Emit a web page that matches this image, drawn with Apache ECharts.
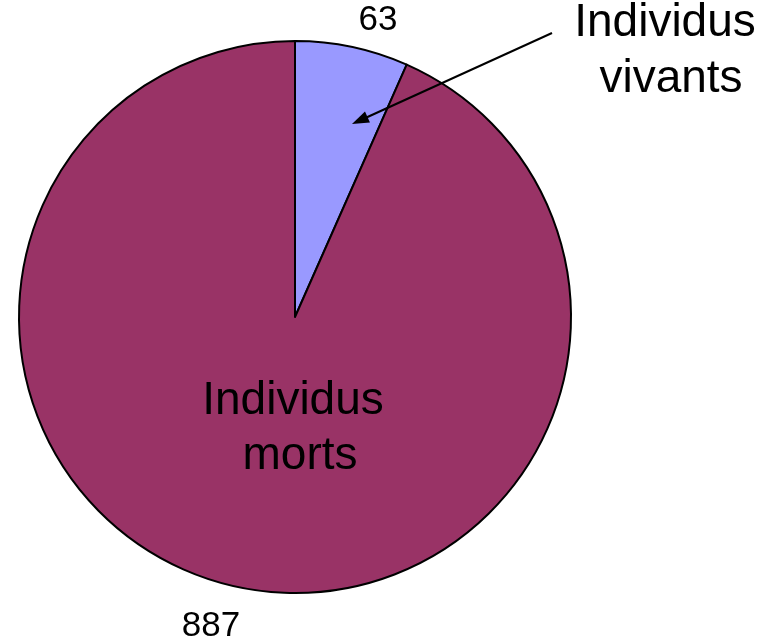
<!DOCTYPE html>
<html>
<head>
<meta charset="utf-8">
<script src="https://cdn.jsdelivr.net/npm/echarts@6/dist/echarts.min.js"></script>
<style>
  html, body { margin: 0; padding: 0; background: #fff; }
  #chart { width: 778px; height: 641px; }
</style>
</head>
<body>
<div id="chart"></div>
<script>
// data
const categories = ['Individus vivants', 'Individus morts'];
const values = [63, 887];
const colors = ['#9999FF', '#993366'];

const font = 'Liberation Sans, Arial, sans-serif';
// where the value labels sit (Excel puts them outside the pie)
const valueLabelPos = [[378, 20], [211, 626]];

const chart = echarts.init(document.getElementById('chart'));

// arrow from the "vivants" caption into its slice
const arrowFrom = [552, 33];
const arrowTo = [352, 124];
function arrowHead (from, to, len, half) {
  const dx = to[0] - from[0];
  const dy = to[1] - from[1];
  const d = Math.sqrt(dx * dx + dy * dy);
  const ux = dx / d, uy = dy / d;
  const bx = to[0] - ux * len, by = to[1] - uy * len;
  return [to, [bx - uy * half, by + ux * half], [bx + uy * half, by - ux * half]];
}

const vivants = categories[0].split(' ');
const morts = categories[1].split(' ');

function caption (x, y, text) {
  return {
    type: 'text', x, y, z: 100,
    style: { text, font: '46px ' + font, fill: '#000', textAlign: 'center', textVerticalAlign: 'middle' }
  };
}

const option = {
  animation: false,
  backgroundColor: '#fff',
  series: [
    {
      type: 'pie',
      center: [295, 317],
      radius: 276,
      startAngle: 90,
      clockwise: true,
      data: categories.map((c, i) => ({
        name: c,
        value: values[i],
        itemStyle: { color: colors[i] }
      })),
      itemStyle: { borderColor: '#000', borderWidth: 2 },
      label: {
        show: true,
        position: 'outside',
        formatter: '{c}',
        color: '#000',
        fontSize: 35,
        fontFamily: font
      },
      labelLine: { show: false },
      labelLayout: (params) => ({
        x: valueLabelPos[params.dataIndex][0],
        y: valueLabelPos[params.dataIndex][1],
        align: 'center',
        verticalAlign: 'middle'
      }),
      emphasis: { disabled: true }
    }
  ],
  graphic: [
    {
      type: 'line', z: 100,
      shape: { x1: arrowFrom[0], y1: arrowFrom[1], x2: arrowTo[0] + 10, y2: arrowTo[1] - 4.5 },
      style: { stroke: '#000', lineWidth: 2 }
    },
    {
      type: 'polygon', z: 100,
      shape: { points: arrowHead(arrowFrom, arrowTo, 17, 6) },
      style: { fill: '#000' }
    },
    caption(665, 23, vivants[0]),
    caption(671, 79, vivants[1]),
    caption(293, 401, morts[0]),
    caption(300, 456, morts[1])
  ]
};
chart.setOption(option);
</script>
</body>
</html>
